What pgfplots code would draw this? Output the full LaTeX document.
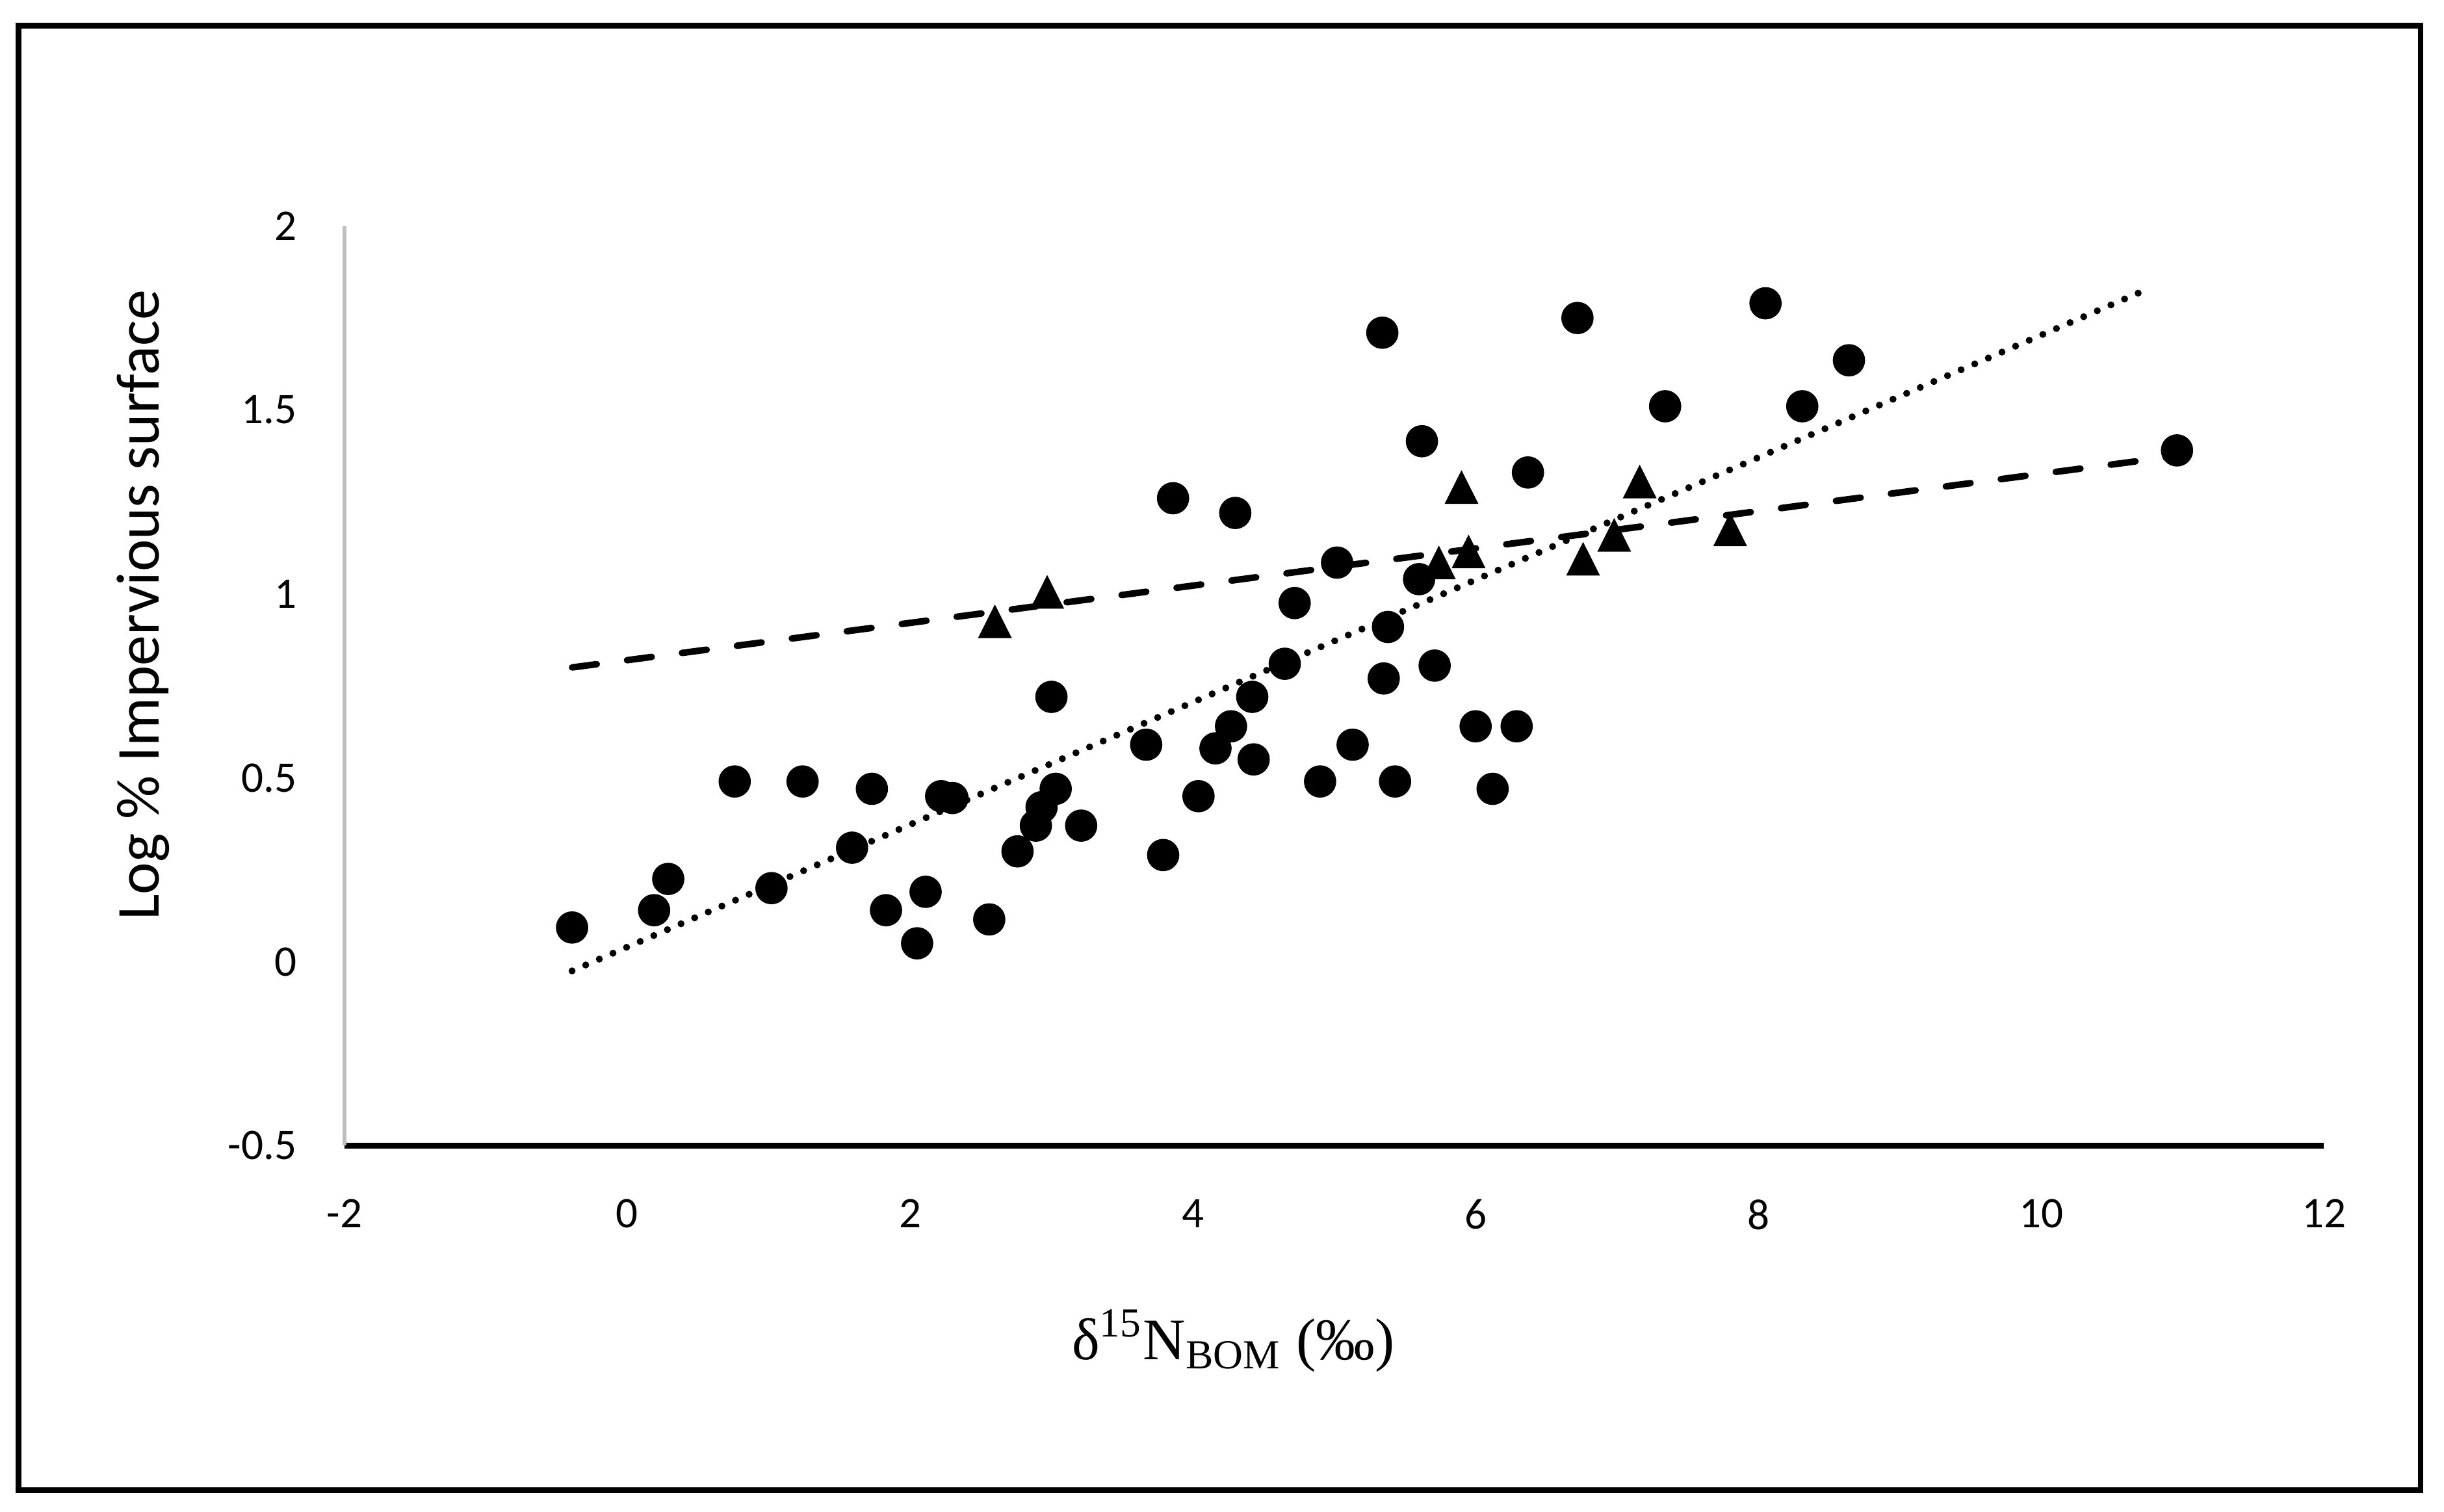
\documentclass[border=0pt]{standalone}
\usepackage{fontspec}
\setmainfont{Carlito}
\newfontfamily\timesfont{Liberation Serif}
\usepackage{pgfplots}
\pgfplotsset{compat=1.18}

\begin{document}
\begin{tikzpicture}
\begin{axis}[
    width=453.6pt, height=210.7pt, scale only axis,
    xmin=-2, xmax=12, ymin=-0.5, ymax=2,
    xtick={-2,0,...,12}, ytick={-0.5,0,0.5,1,1.5,2},
    axis x line*=bottom, axis y line*=left,
    x axis line style={black, line width=1.3pt},
    y axis line style={color=black!25, line width=0.9pt},
    tick style={draw=none},
    ticklabel style={font=\fontsize{10}{12}\selectfont},
    /pgf/number format/assume math mode=true,
    xticklabel style={yshift=-8.8pt},
    yticklabel style={xshift=-7.4pt},
    ylabel={Log \% Impervious surface},
    ylabel style={at={(rel axis cs:-0.1016,0.588)}, anchor=center,
      font=\fontsize{14}{17}\selectfont},
    xlabel={\timesfont δ\textsuperscript{15}N\textsubscript{BOM} (‰)},
    xlabel style={at={(rel axis cs:0.449,-0.212)}, anchor=center,
      font=\fontsize{13.5}{16}\selectfont},
    clip=false,
  ]
  % sites, circles
  \addplot[only marks, mark=*, mark size=3.5pt, black]
  coordinates {
    (-0.39,0.093) (0.19,0.14) (0.29,0.225) (0.76,0.49) (1.02,0.20)
    (1.24,0.49) (1.59,0.31) (1.73,0.47) (1.83,0.14) (2.11,0.19)
    (2.05,0.05) (2.22,0.45) (2.30,0.445) (2.56,0.115) (2.76,0.30)
    (2.89,0.37) (2.93,0.42) (3.03,0.47) (3.00,0.72) (3.21,0.37)
    (3.67,0.59) (3.79,0.29) (3.86,1.26) (4.04,0.45) (4.16,0.58)
    (4.27,0.64) (4.30,1.22) (4.42,0.72) (4.43,0.55) (4.65,0.81)
    (4.72,0.975) (4.90,0.49) (5.02,1.085) (5.13,0.59) (5.34,1.71)
    (5.35,0.77) (5.38,0.91) (5.43,0.49) (5.60,1.04) (5.62,1.415)
    (5.71,0.805) (6.00,0.64) (6.12,0.47) (6.29,0.64) (6.37,1.33)
    (6.72,1.75) (7.34,1.51) (8.05,1.79) (8.31,1.51) (8.64,1.635)
    (10.96,1.39)
  };
  % triangles
  \addplot[only marks, mark=triangle*, mark size=4.1pt, black, mark options={yscale=1.15}]
  coordinates {
    (2.60,0.91) (2.97,0.99) (5.90,1.275) (5.74,1.07) (5.95,1.10)
    (6.76,1.08) (6.98,1.145) (7.16,1.29) (7.80,1.16)
  };
  % trend lines
  \addplot[black, line width=1.5pt, line cap=round, dash pattern=on 5.7pt off 7pt]
  coordinates {(-0.39,0.80) (10.96,1.375)};
  \addplot[black, line width=1.6pt, line cap=round, dash pattern=on 0pt off 3.4pt]
  coordinates {(-0.39,-0.025) (10.70,1.82)};
  % outer frame
  \draw[line width=1.3pt] (rel axis cs:-0.1646,-0.3746) rectangle (rel axis cs:1.0488,1.2178);
  \path (rel axis cs:-0.1740,-0.398) rectangle (rel axis cs:1.0606,1.2458);
\end{axis}
\end{tikzpicture}
\end{document}
